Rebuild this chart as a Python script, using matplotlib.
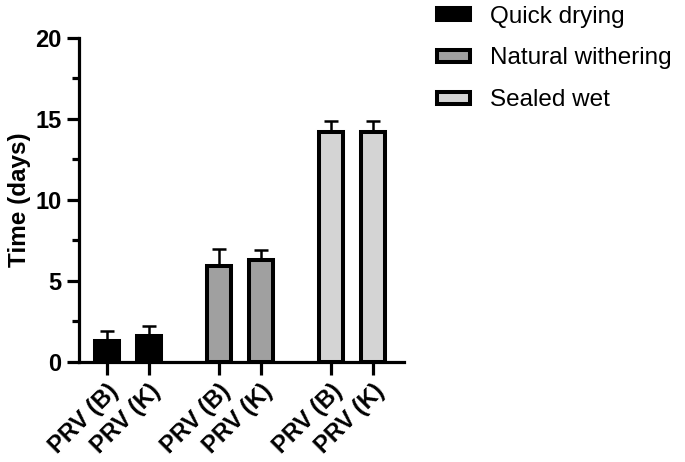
import matplotlib.pyplot as plt
from matplotlib.patches import Patch

plt.rcParams['font.family'] = ['Liberation Sans', 'DejaVu Sans']

# data
groups = ['Quick drying', 'Natural withering', 'Sealed wet']
labels = ['PRV (B)', 'PRV (K)', 'PRV (B)', 'PRV (K)', 'PRV (B)', 'PRV (K)']
means = [1.3, 1.6, 5.9, 6.3, 14.2, 14.2]
errs = [0.6, 0.6, 1.1, 0.6, 0.7, 0.7]
colors = ['#000000', '#000000', '#a0a0a0', '#a0a0a0', '#d4d4d4', '#d4d4d4']
fills = ['#000000', '#a0a0a0', '#d4d4d4']

pos = [0, 1, 2.667, 3.667, 5.333, 6.333]

fig = plt.figure(figsize=(6.85, 4.62), dpi=100)
ax = fig.add_axes([0.115, 0.2165, 0.475, 0.7015])

ax.bar(pos, means, width=0.58, color=colors, edgecolor='black', linewidth=2.9, zorder=3)
ax.errorbar(pos, means, yerr=[[0] * 6, errs], fmt='none', ecolor='black',
            elinewidth=1.8, capsize=4.7, capthick=1.8, zorder=2)

ax.set_xlim(-0.667, 7.07)
ax.set_ylim(0, 20)
ax.set_yticks([0, 5, 10, 15, 20])
ax.set_yticks([2.5, 7.5, 12.5, 17.5], minor=True)
ax.set_xticks(pos)
ax.set_xticklabels(labels, rotation=45, ha='right', rotation_mode='anchor')

for s in ['top', 'right']:
    ax.spines[s].set_visible(False)
for s in ['left', 'bottom']:
    ax.spines[s].set_linewidth(2.3)

ax.tick_params(axis='both', which='major', width=2.3, length=9, labelsize=17)
ax.tick_params(axis='y', which='minor', width=2.3, length=5)
for t in ax.get_xticklabels() + ax.get_yticklabels():
    t.set_fontweight('bold')

ax.set_ylabel('Time (days)', fontsize=17.5, fontweight='bold', labelpad=3)

handles = [Patch(facecolor=c, edgecolor='black', linewidth=2.9) for c in fills]
fig.legend(handles, groups, loc='upper left', bbox_to_anchor=(0.624, 1.009),
           frameon=False, fontsize=17.5, handlelength=1.36, handleheight=0.4,
           labelspacing=0.82, handletextpad=0.82, borderaxespad=0)

fig.savefig('out.png', dpi=100)
